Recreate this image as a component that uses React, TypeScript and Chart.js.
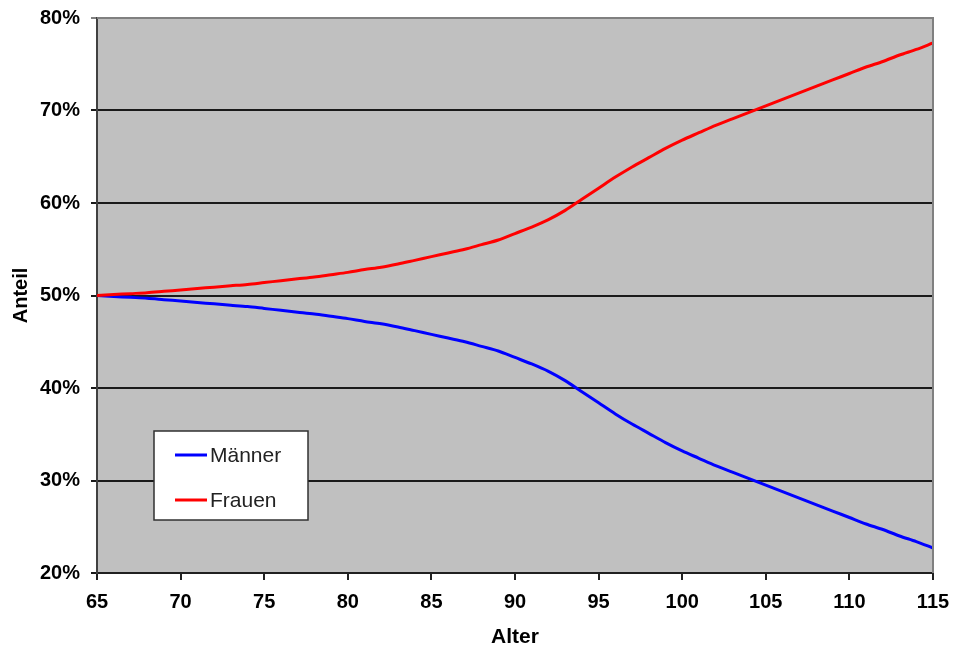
import React, { useEffect, useRef } from "react";
import { Chart, registerables } from "chart.js";

Chart.register(...registerables);

const ages = [
  65, 66, 67, 68, 69, 70, 71, 72, 73, 74, 75, 76, 77, 78, 79, 80, 81, 82, 83, 84, 85, 86, 87, 88, 89,
  90, 91, 92, 93, 94, 95, 96, 97, 98, 99, 100, 101, 102, 103, 104, 105, 106, 107, 108, 109, 110,
  111, 112, 113, 114, 115,
];

const frauen = [
  50.0, 50.1, 50.2, 50.3, 50.45, 50.6, 50.75, 50.9, 51.05, 51.2, 51.4, 51.6, 51.8, 52.0, 52.25,
  52.5, 52.8, 53.05, 53.4, 53.8, 54.2, 54.6, 55.0, 55.5, 56.0, 56.7, 57.4, 58.2, 59.2, 60.4, 61.6,
  62.8, 63.9, 64.9, 65.9, 66.8, 67.6, 68.4, 69.1, 69.8, 70.5, 71.2, 71.9, 72.6, 73.3, 74.0, 74.7,
  75.3, 76.0, 76.6, 77.3,
];

const maenner = [
  50.0, 49.9, 49.8, 49.7, 49.55, 49.4, 49.25, 49.1, 48.95, 48.8, 48.6, 48.4, 48.2, 48.0, 47.75,
  47.5, 47.2, 46.95, 46.6, 46.2, 45.8, 45.4, 45.0, 44.5, 44.0, 43.3, 42.6, 41.8, 40.8, 39.6, 38.4,
  37.2, 36.1, 35.1, 34.1, 33.2, 32.4, 31.6, 30.9, 30.2, 29.5, 28.8, 28.1, 27.4, 26.7, 26.0, 25.3,
  24.7, 24.0, 23.4, 22.7,
];

const seriesNames = ["Männer", "Frauen"];
const seriesColors = ["#0000FF", "#FF0000"];
const yTicks = [20, 30, 40, 50, 60, 70, 80];
const xTicks = [65, 70, 75, 80, 85, 90, 95, 100, 105, 110, 115];
const xTitle = "Alter";
const yTitle = "Anteil";

const FONT = "'Liberation Sans', Arial, sans-serif";

const bgPlugin = {
  id: "plotBg",
  beforeDraw(chart: any) {
    const { ctx, chartArea: a } = chart;
    ctx.save();
    ctx.fillStyle = "#C0C0C0";
    ctx.fillRect(a.left, a.top, a.right - a.left, a.bottom - a.top);
    ctx.restore();
  },
  afterDatasetsDraw(chart: any) {
    const { ctx, chartArea: a } = chart;
    ctx.save();
    ctx.strokeStyle = "#808080";
    ctx.lineWidth = 2;
    ctx.beginPath();
    ctx.moveTo(a.left, a.top);
    ctx.lineTo(a.right, a.top);
    ctx.lineTo(a.right, a.bottom);
    ctx.stroke();
    ctx.restore();
  },
};

const legendPlugin = {
  id: "insideLegend",
  afterDraw(chart: any) {
    const { ctx, chartArea: a } = chart;
    const x = a.left + 57;
    const y = a.top + 413;
    const w = 154;
    const h = 89;
    ctx.save();
    ctx.fillStyle = "#FFFFFF";
    ctx.fillRect(x, y, w, h);
    ctx.strokeStyle = "#303030";
    ctx.lineWidth = 1.5;
    ctx.strokeRect(x, y, w, h);
    const order = ["Männer", "Frauen"];
    order.forEach((name, i) => {
      const ds = chart.data.datasets.find((d: any) => d.label === name);
      const cy = y + 24 + i * 45;
      ctx.strokeStyle = ds.borderColor;
      ctx.lineWidth = 3;
      ctx.beginPath();
      ctx.moveTo(x + 21, cy);
      ctx.lineTo(x + 53, cy);
      ctx.stroke();
      ctx.fillStyle = "#222";
      ctx.font = `21px ${FONT}`;
      ctx.textBaseline = "middle";
      ctx.textAlign = "left";
      ctx.fillText(name, x + 56, cy + 1);
    });
    ctx.restore();
  },
};

export default function App() {
  const ref = useRef<HTMLCanvasElement | null>(null);

  useEffect(() => {
    if (!ref.current) return;
    const toPts = (vals: number[]) => ages.map((a, i) => ({ x: a, y: vals[i] }));
    const chart = new Chart(ref.current, {
      type: "line",
      data: {
        datasets: [
          {
            label: seriesNames[0],
            data: toPts(maenner),
            borderColor: seriesColors[0],
            backgroundColor: seriesColors[0],
            borderWidth: 3,
            pointRadius: 0,
            tension: 0.3,
            order: 1,
          },
          {
            label: seriesNames[1],
            data: toPts(frauen),
            borderColor: seriesColors[1],
            backgroundColor: seriesColors[1],
            borderWidth: 3,
            pointRadius: 0,
            tension: 0.3,
            order: 0,
          },
        ],
      },
      options: {
        animation: false,
        responsive: false,
        maintainAspectRatio: false,
        layout: { padding: { left: 0, top: 18, right: 20, bottom: 0 } },
        plugins: {
          legend: { display: false },
          tooltip: { enabled: false },
        },
        scales: {
          x: {
            type: "linear",
            min: xTicks[0],
            max: xTicks[xTicks.length - 1],
            afterBuildTicks(scale: any) {
              scale.ticks = xTicks.map((v) => ({ value: v }));
            },
            border: { color: "#202020", width: 2 },
            grid: {
              drawOnChartArea: false,
              drawTicks: true,
              tickLength: 7,
              color: "#202020",
              lineWidth: 2,
            },
            ticks: {
              color: "#000",
              padding: 10,
              maxRotation: 0,
              font: { family: FONT, size: 20, weight: "bold" },
            },
            title: {
              display: true,
              text: xTitle,
              color: "#000",
              font: { family: FONT, size: 21, weight: "bold" },
              padding: { top: 0, bottom: 0 },
            },
            afterFit(scale: any) {
              scale.height = 77;
              scale.paddingLeft = 0;
              scale.paddingRight = 0;
            },
          },
          y: {
            type: "linear",
            min: yTicks[0],
            max: yTicks[yTicks.length - 1],
            afterBuildTicks(scale: any) {
              scale.ticks = yTicks.map((v) => ({ value: v }));
            },
            border: { color: "#404040", width: 2 },
            grid: {
              color: (c: any) =>
                c.tick && c.tick.value === 80 ? "#808080" : "#1a1a1a",
              lineWidth: 2,
              drawTicks: true,
              tickLength: 6,
            },
            ticks: {
              color: "#000",
              padding: 11,
              callback: (v: any) => v + "%",
              font: { family: FONT, size: 20, weight: "bold" },
            },
            title: {
              display: true,
              text: yTitle,
              color: "#000",
              font: { family: FONT, size: 20, weight: "bold" },
              padding: { top: 9, bottom: 0 },
            },
            afterFit(scale: any) {
              scale.width = 97;
              scale.paddingTop = 0;
              scale.paddingBottom = 0;
            },
          },
        },
      },
      plugins: [bgPlugin, legendPlugin],
    } as any);
    return () => chart.destroy();
  }, []);

  return (
    <div style={{ position: "absolute", left: 0, top: 0, width: 953, height: 650, background: "#fff" }}>
      <canvas ref={ref} width={953} height={650} style={{ width: 953, height: 650, display: "block" }} />
    </div>
  );
}
